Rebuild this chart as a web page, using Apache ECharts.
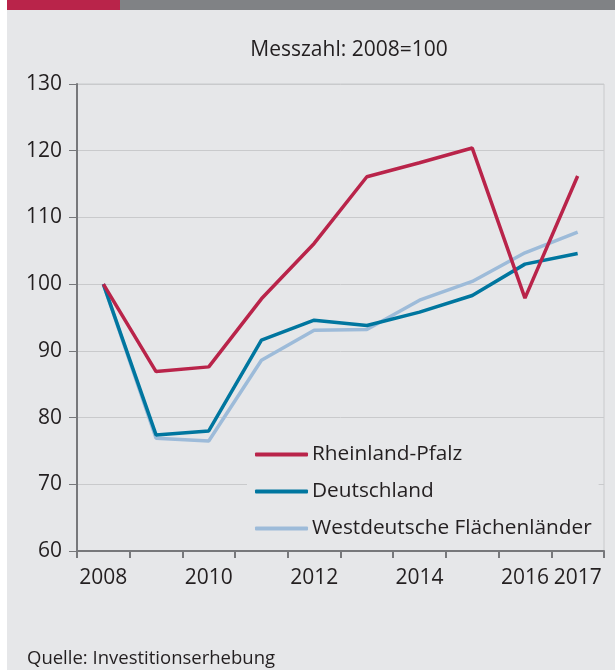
<!DOCTYPE html>
<html>
<head>
<meta charset="utf-8">
<script src="https://cdn.jsdelivr.net/npm/echarts@6/dist/echarts.min.js"></script>
<style>
  html, body { margin: 0; padding: 0; background: #fff; }
  #chart { width: 615px; height: 670px; }
</style>
</head>
<body>
<div id="chart"></div>
<script>
// Jahre (x-Achse)
var years = ['2008', '2009', '2010', '2011', '2012', '2013', '2014', '2015', '2016', '2017'];
// Messzahl: 2008=100
var rheinlandPfalz = [100, 86.9, 87.6, 97.8, 106.1, 116.1, 118.2, 120.4, 97.9, 116.2];
var deutschland = [100, 77.4, 78.0, 91.6, 94.6, 93.8, 95.8, 98.3, 103.0, 104.6];
var westdeutsche = [100, 76.9, 76.5, 88.6, 93.1, 93.2, 97.6, 100.4, 104.7, 107.8];
// welche Jahre beschriftet werden
var labelledYears = ['2008', '2010', '2012', '2014', '2016', '2017'];

var fontFamily = '"Open Sans", "Noto Sans", sans-serif';
var textColor = '#231f20';

function lineSeries(name, data, color) {
    return {
        name: name,
        type: 'line',
        data: data,
        symbol: 'none',
        lineStyle: { color: color, width: 3.5 },
        itemStyle: { color: color },
        z: 3
    };
}

var option = {
    backgroundColor: '#e6e7e9',
    animation: false,
    textStyle: { fontFamily: fontFamily, color: textColor },
    graphic: [
        // weisser Rand links
        { type: 'rect', left: 0, top: 0, shape: { width: 7, height: 670 }, style: { fill: '#ffffff' } },
        // Balken oben
        { type: 'rect', left: 7, top: 0, shape: { width: 113, height: 10 }, style: { fill: '#b9244a' } },
        { type: 'rect', left: 120, top: 0, shape: { width: 495, height: 10 }, style: { fill: '#808285' } }
    ],
    title: [{
        text: 'Messzahl: 2008=100',
        left: 344,
        textAlign: 'center',
        top: 35,
        textStyle: { fontFamily: fontFamily, fontSize: 21, fontWeight: 'normal', color: textColor }
    }, {
        text: 'Quelle: Investitionserhebung',
        left: 22,
        top: 644,
        textStyle: { fontFamily: fontFamily, fontSize: 18.5, fontWeight: 'normal', color: textColor }
    }],
    legend: {
        orient: 'vertical',
        left: 247,
        top: 437,
        padding: [5, 7, 5, 8],
        backgroundColor: '#e6e7e9',
        itemWidth: 53,
        itemHeight: 4,
        itemGap: 12,
        icon: 'roundRect',
        textStyle: { fontFamily: fontFamily, fontSize: 20.8, color: textColor, lineHeight: 25, padding: [0, 0, 0, -1] },
        data: ['Rheinland-Pfalz', 'Deutschland', 'Westdeutsche Flächenländer'],
        z: 2
    },
    grid: {
        left: 77,
        right: 11,
        top: 84,
        bottom: 119,
        show: true,
        backgroundColor: 'transparent',
        borderColor: '#c9cacc',
        borderWidth: 1
    },
    xAxis: {
        type: 'category',
        data: years,
        boundaryGap: true,
        axisLine: { lineStyle: { color: '#77787b', width: 2 } },
        axisTick: { show: true, interval: 0, length: 7, lineStyle: { color: '#77787b', width: 2 } },
        axisLabel: {
            interval: function (i, v) { return labelledYears.indexOf(v) >= 0; },
            margin: 17,
            fontSize: 21,
            color: textColor,
            fontFamily: fontFamily
        },
        splitLine: { show: false }
    },
    yAxis: {
        type: 'value',
        min: 60,
        max: 130,
        interval: 10,
        axisLine: { show: true, lineStyle: { color: '#77787b', width: 2 } },
        axisTick: { show: true, length: 8, lineStyle: { color: '#77787b', width: 1 } },
        axisLabel: { fontSize: 21, color: textColor, margin: 15, fontFamily: fontFamily },
        splitLine: { lineStyle: { color: '#c9cacc', width: 1 } }
    },
    series: [
        lineSeries('Westdeutsche Flächenländer', westdeutsche, '#9dbbd9'),
        lineSeries('Deutschland', deutschland, '#00769f'),
        lineSeries('Rheinland-Pfalz', rheinlandPfalz, '#b9244a')
    ]
};

var chart = echarts.init(document.getElementById('chart'));
chart.setOption(option);
</script>
</body>
</html>
